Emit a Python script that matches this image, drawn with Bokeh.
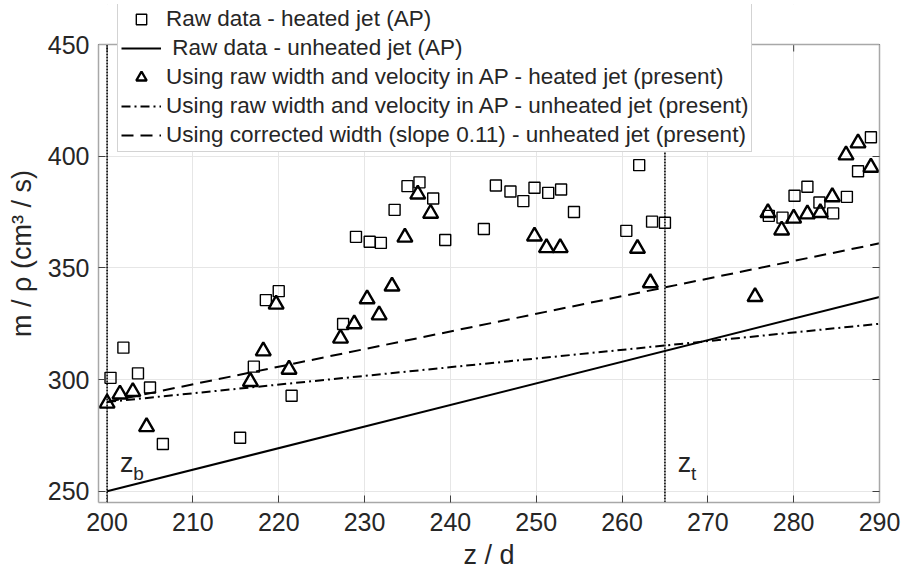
from bokeh.plotting import figure
from bokeh.models import Legend, LegendItem, LinearAxis, Span, FixedTicker, Range1d, Label, BoxAnnotation
from bokeh.embed import file_html
from bokeh.resources import INLINE

# ---------------- data ----------------
heated_raw_z = [200.4, 201.9, 203.6, 205.0, 206.5, 215.5, 217.1, 218.5, 220.0, 221.5,
                227.5, 229.0, 230.6, 231.9, 233.5, 235.0, 236.4, 238.0, 239.4, 243.9,
                245.3, 247.0, 248.5, 249.8, 251.4, 252.9, 254.4, 260.5, 262.0, 263.5,
                265.0, 277.1, 278.7, 280.1, 281.6, 283.0, 284.6, 286.2, 287.5, 289.0]
heated_raw_m = [300.8, 314.3, 302.8, 296.5, 271.2, 274.0, 305.8, 335.6, 339.6, 292.8,
                324.9, 363.9, 361.7, 361.2, 376.0, 386.6, 388.3, 381.1, 362.5, 367.4,
                386.9, 384.2, 379.9, 385.9, 383.6, 385.1, 375.0, 366.6, 396.0, 370.7,
                370.2, 373.3, 372.5, 382.3, 386.3, 379.3, 374.4, 381.8, 393.3, 408.5]

heated_present_z = [200.0, 201.5, 203.0, 204.6, 216.7, 218.2, 219.7, 221.2, 227.2, 228.8,
                    230.3, 231.7, 233.2, 234.7, 236.2, 237.7, 249.8, 251.2, 252.8, 261.8,
                    263.3, 275.5, 277.0, 278.6, 280.0, 281.6, 283.1, 284.5, 286.1, 287.5,
                    289.0]
heated_present_m = [289.4, 293.5, 294.6, 278.9, 299.1, 312.8, 333.7, 304.6, 318.5, 324.9,
                    336.1, 328.9, 341.8, 363.7, 383.0, 374.4, 364.2, 359.0, 359.0, 358.7,
                    343.3, 337.1, 374.7, 366.9, 372.2, 374.1, 374.7, 381.8, 400.5, 405.9,
                    395.0]

unheated_raw_z = [200, 290]
unheated_raw_m = [250, 337]
unheated_present_z = [200, 290]
unheated_present_m = [290, 325]
corrected_z = [200, 290]
corrected_m = [290, 361]

x_ticks = [200, 210, 220, 230, 240, 250, 260, 270, 280, 290]
y_ticks = [250, 300, 350, 400, 450]
x_lim = (199, 290)
y_lim = (245, 450)
zone_bounds = [200, 265]
zone_names = ["b", "t"]

legend_labels = [
    "Raw data - heated jet (AP)",
    " Raw data - unheated jet (AP)",
    "Using raw width and velocity in AP - heated jet (present)",
    "Using raw width and velocity in AP - unheated jet (present)",
    "Using corrected width (slope 0.11) - unheated jet (present)",
]

FONT = "Liberation Sans"
TXT = "#262626"
BOX = "#a8a8a8"
TICK = "#404040"

# layout: axes box 98..879 x 44..502 ; frame extended up to y=4 so the legend can overlap
FRAME_TOP, BOX_TOP, BOX_BOTTOM = 4, 44, 502
px_per_unit = (BOX_BOTTOM - BOX_TOP) / (y_lim[1] - y_lim[0])
y_top_ext = y_lim[1] + (BOX_TOP - FRAME_TOP) / px_per_unit
TICK_LEN = 7

p = figure(width=901, height=579, output_backend="svg", toolbar_location=None,
           x_range=Range1d(*x_lim), y_range=Range1d(y_lim[0], y_top_ext),
           min_border_left=98, min_border_right=22, min_border_top=FRAME_TOP,
           min_border_bottom=579 - BOX_BOTTOM,
           background_fill_color="white", border_fill_color="white")

p.outline_line_color = None

for ax in (p.xaxis[0], p.yaxis[0]):
    ax.major_label_text_font = FONT
    ax.major_label_text_font_size = "25px"
    ax.major_label_text_color = TXT
    ax.axis_label_text_font = FONT
    ax.axis_label_text_font_size = "27px"
    ax.axis_label_text_font_style = "normal"
    ax.axis_label_text_color = TXT
    ax.axis_line_color = BOX
    ax.axis_line_width = 1.5
    ax.major_tick_in = TICK_LEN
    ax.major_tick_out = 0
    ax.major_tick_line_color = TICK
    ax.minor_tick_line_color = None

p.xaxis[0].ticker = FixedTicker(ticks=x_ticks)
p.yaxis[0].ticker = FixedTicker(ticks=y_ticks)
p.yaxis[0].bounds = y_lim
p.xaxis[0].axis_label = "z / d"
p.yaxis[0].axis_label = "m / \u03c1 (cm\u00b3 / s)"
p.xaxis[0].major_label_standoff = 10
p.yaxis[0].major_label_standoff = 9
p.xaxis[0].axis_label_standoff = 6
p.yaxis[0].axis_label_standoff = 8

right_ax = LinearAxis(ticker=FixedTicker(ticks=y_ticks), bounds=y_lim,
                      major_label_overrides={t: "" for t in y_ticks},
                      axis_line_color=BOX, axis_line_width=1.5, major_tick_in=TICK_LEN,
                      major_tick_out=0, major_tick_line_color=TICK, minor_tick_line_color=None,
                      major_label_standoff=0)
p.add_layout(right_ax, "right")

p.xgrid.ticker = FixedTicker(ticks=x_ticks)
p.ygrid.ticker = FixedTicker(ticks=y_ticks)
p.xgrid.grid_line_color = "#e6e6e6"
p.ygrid.grid_line_color = "#e6e6e6"

# hide grid above the axes box, then draw the box top edge with its inward ticks
p.add_layout(BoxAnnotation(bottom=y_lim[1], fill_color="white", fill_alpha=1.0,
                           line_color=None, level="underlay"))
p.add_layout(Span(location=y_lim[1], dimension="width", line_color=BOX, line_width=1.5))
top_tick_len = TICK_LEN / px_per_unit
p.segment(x0=x_ticks, y0=[y_lim[1]] * len(x_ticks), x1=x_ticks,
          y1=[y_lim[1] - top_tick_len] * len(x_ticks), line_color=TICK, line_width=1)

# vertical dotted markers (z_b, z_t)
p.segment(x0=zone_bounds, y0=[y_lim[0]] * 2, x1=zone_bounds, y1=[y_lim[1]] * 2,
          line_color="black", line_width=1.6, line_dash="2 1")

r_sq = p.scatter(heated_raw_z, heated_raw_m, marker="square", size=11,
                 fill_color=None, line_color="black", line_width=1.4)
r_solid = p.line(unheated_raw_z, unheated_raw_m, line_color="black", line_width=2)
r_tri = p.scatter(heated_present_z, heated_present_m, marker="triangle", size=15,
                  fill_color=None, line_color="black", line_width=2.4)
r_dd = p.line(unheated_present_z, unheated_present_m, line_color="black", line_width=2,
              line_dash="9 4 2 4")
r_dash = p.line(corrected_z, corrected_m, line_color="black", line_width=2,
                line_dash="12 7")

# z_b, z_t labels
for zb, nm in zip(zone_bounds, zone_names):
    p.add_layout(Label(x=zb + 1.5, y=262.5, text="z", text_font=FONT,
                       text_font_size="27px", text_color=TXT, text_baseline="alphabetic"))
    p.add_layout(Label(x=zb + 3.05, y=258.0, text=nm, text_font=FONT,
                       text_font_size="19px", text_color=TXT, text_baseline="alphabetic"))

items = [LegendItem(label=lbl, renderers=[r]) for lbl, r in
         zip(legend_labels, [r_sq, r_solid, r_tri, r_dd, r_dash])]
legend = Legend(items=items, location=(19, 350), orientation="vertical",
                label_text_font=FONT, label_text_font_size="22.5px", label_text_color=TXT,
                glyph_width=40, glyph_height=26, label_height=26, label_standoff=5,
                spacing=3, padding=3, margin=0,
                border_line_color=BOX, border_line_width=1.2,
                background_fill_color="white", background_fill_alpha=1.0)
p.add_layout(legend, "center")

open("out.html", "w").write(file_html(p, INLINE))
